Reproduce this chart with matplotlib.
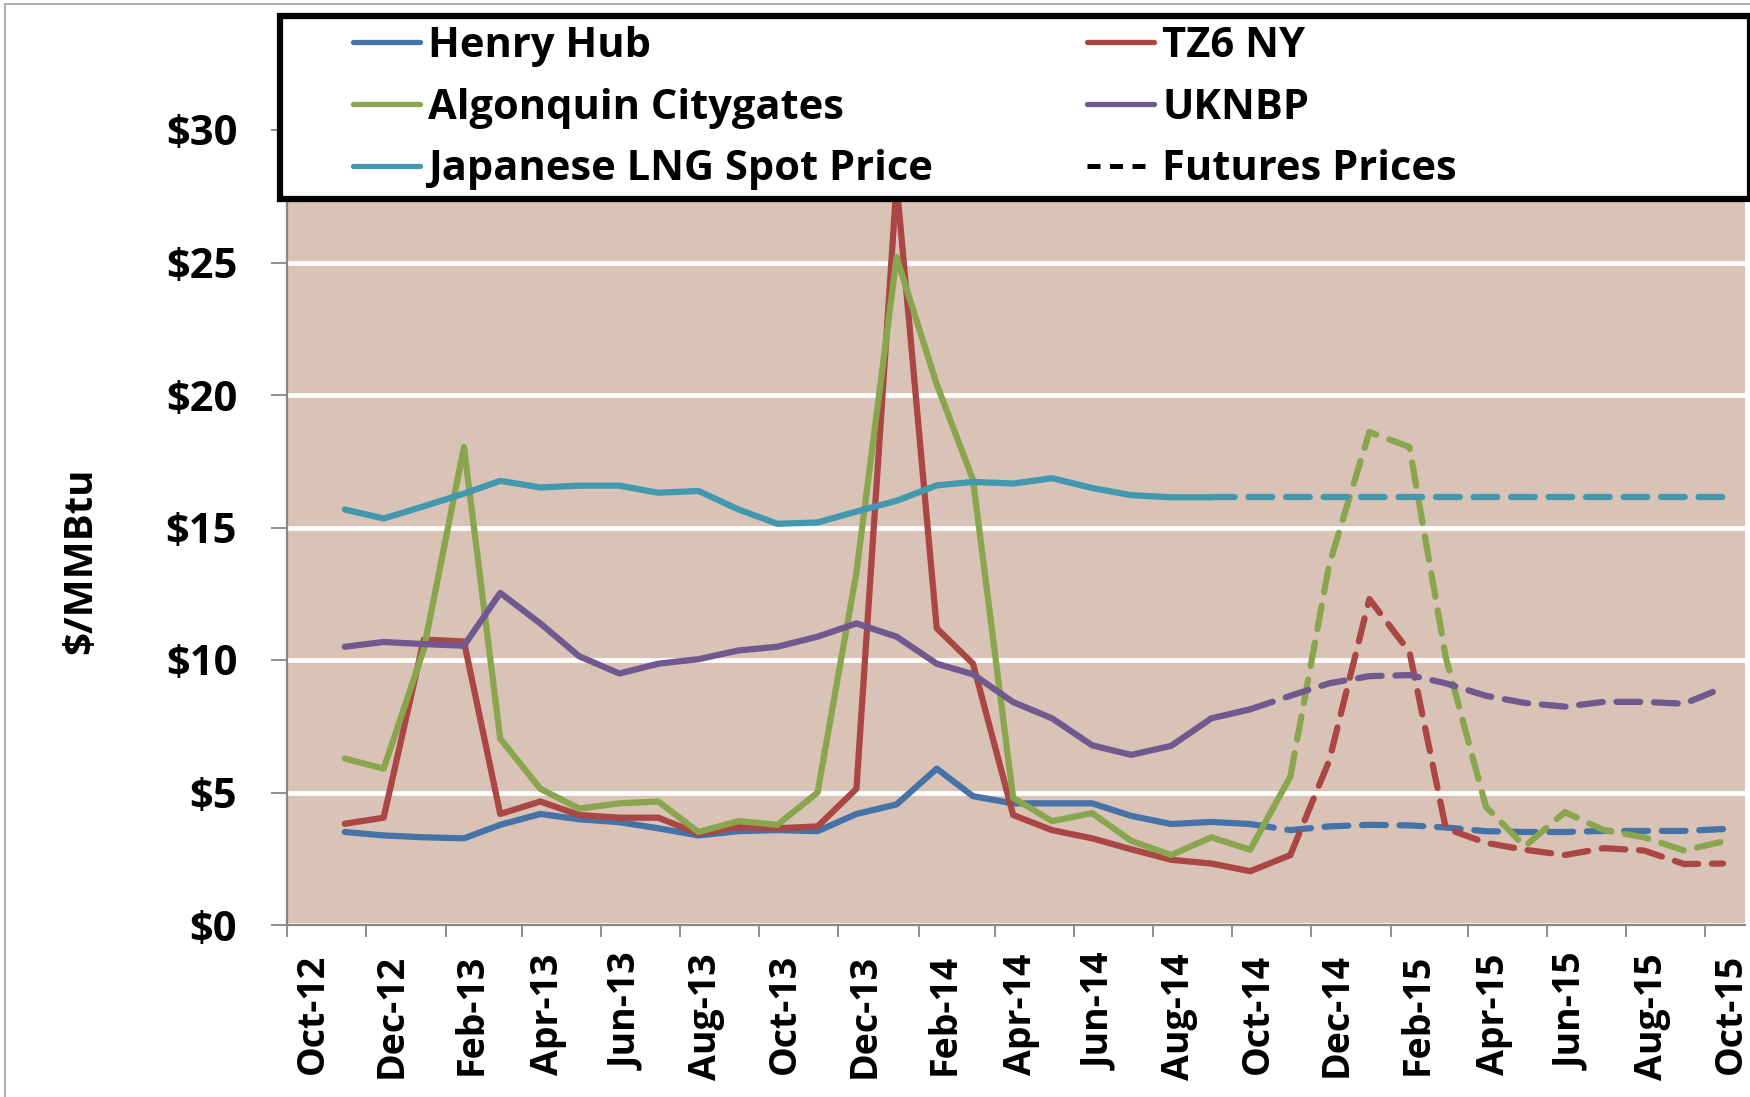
import numpy as np
import pandas as pd
import matplotlib
matplotlib.use("Agg")
import matplotlib.pyplot as plt
from matplotlib.lines import Line2D
from matplotlib.patches import Rectangle


# Monthly points, Nov-12 to Oct-15 (plotted mid-month)
months = pd.date_range("2012-11-01", periods=36, freq="MS") + pd.Timedelta(days=14)

henry_hub = [3.51, 3.38, 3.31, 3.27, 3.78, 4.19, 3.99, 3.88, 3.65, 3.38, 3.54, 3.58,
             3.54, 4.19, 4.55, 5.90, 4.86, 4.59, 4.59, 4.59, 4.12, 3.81, 3.89, 3.81,
             3.58, 3.72, 3.78, 3.76, 3.68, 3.54, 3.51, 3.51, 3.55, 3.55, 3.55, 3.62]
tz6_ny = [3.82, 4.05, 10.77, 10.70, 4.19, 4.66, 4.15, 4.05, 4.05, 3.45, 3.69, 3.65,
          3.72, 5.14, 28.0, 11.20, 9.86, 4.15, 3.58, 3.27, 2.86, 2.46, 2.32, 2.03,
          2.64, 6.20, 12.30, 10.30, 3.65, 3.10, 2.84, 2.64, 2.90, 2.81, 2.30, 2.32]
algonquin = [6.28, 5.90, 10.40, 18.04, 7.03, 5.14, 4.39, 4.59, 4.66, 3.51, 3.92, 3.78,
             5.00, 13.30, 25.20, 20.40, 16.80, 4.80, 3.92, 4.22, 3.18, 2.64, 3.31, 2.84,
             5.60, 13.60, 18.60, 18.04, 10.10, 4.46, 2.97, 4.26, 3.58, 3.31, 2.81, 3.15]
uknbp = [10.50, 10.68, 10.60, 10.54, 12.53, 11.38, 10.14, 9.49, 9.86, 10.03, 10.36, 10.50,
         10.88, 11.38, 10.88, 9.86, 9.46, 8.41, 7.80, 6.78, 6.42, 6.76, 7.80, 8.14,
         8.65, 9.12, 9.39, 9.43, 9.12, 8.65, 8.38, 8.24, 8.42, 8.42, 8.35, 8.95]
japan_lng = [15.68, 15.34, 15.80, 16.28, 16.76, 16.51, 16.58, 16.58, 16.31, 16.38, 15.68, 15.14,
             15.19, 15.60, 16.01, 16.59, 16.72, 16.66, 16.86, 16.49, 16.22, 16.14, 16.14, 16.14,
             16.14, 16.14, 16.14, 16.14, 16.14, 16.14, 16.14, 16.14, 16.14, 16.14, 16.14, 16.14]

# number of months of actual prices; the rest are futures
series = [
    ("Henry Hub", henry_hub, 24, "#4572A7"),
    ("TZ6 NY", tz6_ny, 25, "#AA4643"),
    ("Algonquin Citygates", algonquin, 25, "#89A54E"),
    ("UKNBP", uknbp, 24, "#71588F"),
    ("Japanese LNG Spot Price", japan_lng, 23, "#4198AF"),
]

y_ticks = [0, 5, 10, 15, 20, 25, 30]
y_tick_labels = ["$0", "$5", "$10", "$15", "$20", "$25", "$30"]

# x tick marks every two months, labels sit a little right of each mark
x_tick_months = pd.date_range("2012-10-01", "2015-10-01", freq="2MS")
x_tick_labels = [d.strftime("%b-%y") for d in x_tick_months]

W, H = 1750, 1097
fig = plt.figure(figsize=(W / 100, H / 100), dpi=100)
ax = fig.add_axes([286.5 / W, 172 / H, (1745 - 286.5) / W, 795 / H])
ax.set_facecolor("#D9C3B6")

lw = 4.5
for name, vals, n, color in series:
    ax.plot(months[:n], vals[:n], color=color, lw=lw, solid_capstyle="round",
            solid_joinstyle="round", zorder=3)
    ax.plot(months[n - 1:], vals[n - 1:], color=color, lw=lw, linestyle=(0, (3.8, 2.2)),
            dash_capstyle="round", zorder=3)

ax.set_ylim(0, 30)
ax.set_xlim(pd.Timestamp("2012-10-01"), pd.Timestamp("2015-11-01"))
ax.set_yticks(y_ticks)
ax.set_yticklabels(y_tick_labels, fontfamily="Open Sans", fontweight="bold", fontsize=30)
ax.yaxis.grid(True, color="white", lw=3.4)
ax.set_axisbelow(True)

ax.set_xticks(x_tick_months, minor=True)
ax.set_xticks(x_tick_months + pd.Timedelta(days=20))
ax.set_xticklabels(x_tick_labels, rotation=90, fontfamily="Open Sans",
                   fontweight="bold", fontsize=27)

for side in ["top", "right"]:
    ax.spines[side].set_visible(False)
for side in ["left", "bottom"]:
    ax.spines[side].set_color("#868686")
    ax.spines[side].set_linewidth(1.6)
ax.tick_params(axis="y", length=11.5, width=1.3, color="#868686", pad=24)
ax.tick_params(axis="x", which="minor", length=8.6, width=1.3, color="#868686")
ax.tick_params(axis="x", which="major", length=0, pad=20.5)

ax.set_ylabel("$/MMBtu", fontfamily="Open Sans", fontweight="bold", fontsize=29)
ax.yaxis.set_label_coords(-0.128, 0.458)

# Legend box
fig.add_artist(Rectangle((280 / W, 1 - 199 / H), 1470.5 / W, 183 / H, transform=fig.transFigure,
                         facecolor="white", edgecolor="black", lw=4.5, zorder=5))

handles = [Line2D([], [], color=c, lw=3.8, solid_capstyle="round") for _, _, _, c in series]
labels = [s[0] for s in series]
handles.append(Line2D([], [], color="black", lw=3.6, linestyle=(0, (2.6, 1.9))))
labels.append("Futures Prices")

leg_kw = dict(frameon=False, prop={"family": "Open Sans", "weight": "bold", "size": 30},
              handlelength=1.6, handletextpad=0.2, labelspacing=0.5, borderpad=0,
              borderaxespad=0, loc="center left")
lg1 = fig.legend([handles[i] for i in [0, 2, 4]], [labels[i] for i in [0, 2, 4]],
                 bbox_to_anchor=(353 / W, 1 - 108 / H), **leg_kw)
lg2 = fig.legend([handles[i] for i in [1, 3, 5]], [labels[i] for i in [1, 3, 5]],
                 bbox_to_anchor=(1087 / W, 1 - 108 / H), **leg_kw)
lg1.set_zorder(6)
lg2.set_zorder(6)

# outer chart border (left and top edges show)
fig.add_artist(Rectangle((5 / W, -0.05), 1.1, 1.05 - 4 / H, transform=fig.transFigure,
                         facecolor="none", edgecolor="#A0A0A0", lw=1.2, zorder=0))

fig.savefig("out.png", dpi=100)
